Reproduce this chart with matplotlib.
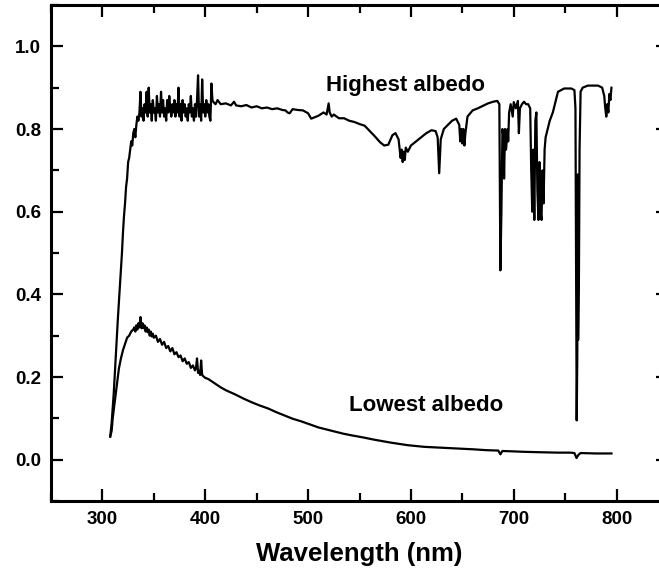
import matplotlib
matplotlib.use("Agg")
import matplotlib.pyplot as plt
from matplotlib.ticker import MultipleLocator

# ---- data: (wavelength nm, albedo) ----
highest = [
    (307.6, 0.056), (309, 0.09), (311, 0.16), (313, 0.25), (315, 0.34), (316.5, 0.40), (318, 0.46),
    (319, 0.50), (320, 0.55), (321, 0.59), (322, 0.62), (323, 0.66), (324, 0.68), (325, 0.72),
    (326, 0.73), (327, 0.75), (328, 0.77), (329, 0.76), (330, 0.79), (331, 0.80), (332, 0.78),
    (333, 0.81), (334, 0.83), (335, 0.82), (336, 0.84), (337, 0.89), (338, 0.83), (339, 0.85),
    (340, 0.82), (341, 0.86), (342, 0.84), (343, 0.89), (344, 0.83), (345, 0.90), (346, 0.84),
    (347, 0.86), (348, 0.82), (349, 0.87), (350, 0.84), (351, 0.85), (352, 0.82), (353, 0.88),
    (354, 0.84), (355, 0.86), (356, 0.83), (357, 0.89), (358, 0.84), (359, 0.87), (360, 0.83),
    (361, 0.85), (362, 0.82), (363, 0.87), (364, 0.84), (365, 0.88), (366, 0.85), (367, 0.83),
    (368, 0.86), (369, 0.84), (370, 0.87), (371, 0.83), (372, 0.86), (373, 0.84), (374, 0.90),
    (375, 0.83), (376, 0.86), (377, 0.82), (378, 0.87), (379, 0.84), (380, 0.86), (381, 0.83),
    (382, 0.85), (383, 0.82), (384, 0.86), (385, 0.84), (386, 0.88), (387, 0.83), (388, 0.85),
    (389, 0.82), (390, 0.86), (391, 0.83), (392, 0.87), (393, 0.93), (394, 0.83), (395, 0.86),
    (396, 0.82), (397, 0.92), (398, 0.84), (399, 0.86), (400, 0.83), (401, 0.87), (402, 0.84),
    (403, 0.86), (404, 0.83), (405, 0.82), (406, 0.91), (407, 0.87), (408, 0.865), (410, 0.86),
    (412, 0.87), (415, 0.86), (420, 0.862), (425, 0.857), (428, 0.866), (430, 0.857), (435, 0.855),
    (440, 0.858), (445, 0.852), (450, 0.855), (455, 0.85), (460, 0.852), (465, 0.848), (470, 0.85),
    (475, 0.846), (478, 0.845), (480, 0.84), (482, 0.838), (485, 0.848), (490, 0.846), (495, 0.845),
    (500, 0.838), (503, 0.825), (506, 0.828), (510, 0.832), (515, 0.84), (518, 0.835), (520, 0.862),
    (521, 0.84), (523, 0.83), (525, 0.835), (530, 0.826), (535, 0.826), (540, 0.82), (545, 0.817),
    (550, 0.812), (555, 0.808), (560, 0.795), (565, 0.782), (570, 0.768), (574, 0.76), (578, 0.762),
    (582, 0.785), (585, 0.79), (588, 0.775), (590, 0.73), (591, 0.75), (592, 0.72), (593, 0.745),
    (594, 0.725), (595, 0.755), (597, 0.745), (600, 0.76), (605, 0.77), (610, 0.78), (615, 0.79),
    (620, 0.797), (624, 0.795), (626, 0.78), (627.5, 0.693), (629, 0.775), (632, 0.80), (636, 0.81),
    (640, 0.82), (644, 0.825), (647, 0.81), (648, 0.77), (649, 0.80), (650, 0.765), (651, 0.80),
    (652, 0.76), (653, 0.79), (655, 0.83), (660, 0.845), (665, 0.85), (670, 0.856), (675, 0.862),
    (680, 0.866), (684, 0.868), (686, 0.86), (687, 0.458), (688, 0.60), (689, 0.80), (690, 0.78),
    (690.6, 0.68), (691.5, 0.80), (692.5, 0.75), (694, 0.80), (694.6, 0.77), (695.5, 0.84),
    (697, 0.86), (699, 0.83), (700, 0.865), (702, 0.85), (704, 0.868), (705, 0.79), (706, 0.85),
    (708, 0.86), (710, 0.866), (712, 0.86), (714, 0.86), (716, 0.85), (717, 0.70), (718, 0.60),
    (719, 0.75), (720, 0.58), (721, 0.82), (722, 0.84), (723, 0.65), (724, 0.58), (725, 0.72),
    (726, 0.60), (727, 0.58), (728, 0.70), (729, 0.62), (730, 0.75), (731, 0.78), (733, 0.80),
    (735, 0.82), (738, 0.84), (740, 0.86), (743, 0.89), (749, 0.898), (756, 0.898), (759, 0.894),
    (760, 0.85), (761.2, 0.095), (761.8, 0.25), (762.2, 0.69), (762.6, 0.29), (763.4, 0.45),
    (764, 0.75), (765, 0.89), (767, 0.90), (772, 0.905), (782, 0.905), (786, 0.90), (788, 0.88),
    (789, 0.85), (790, 0.83), (791, 0.86), (792, 0.84), (793, 0.885), (794, 0.87), (795, 0.90),
]

lowest = [
    (307.6, 0.056), (309, 0.07), (310, 0.10), (312, 0.14), (314, 0.18), (316, 0.22), (318, 0.245),
    (320, 0.265), (322, 0.28), (324, 0.295), (326, 0.30), (328, 0.31), (330, 0.315), (331, 0.32),
    (332, 0.31), (333, 0.325), (334, 0.315), (335, 0.33), (336, 0.32), (337, 0.345), (338, 0.318),
    (339, 0.33), (340, 0.318), (341, 0.325), (342, 0.31), (343, 0.32), (344, 0.308), (345, 0.315),
    (346, 0.30), (347, 0.31), (348, 0.298), (349, 0.305), (350, 0.295), (352, 0.30), (354, 0.285),
    (356, 0.292), (358, 0.278), (360, 0.285), (362, 0.27), (364, 0.275), (366, 0.262), (368, 0.27),
    (370, 0.255), (372, 0.26), (374, 0.248), (376, 0.252), (378, 0.238), (380, 0.245), (382, 0.232),
    (384, 0.236), (386, 0.222), (388, 0.228), (390, 0.216), (391, 0.222), (392, 0.245), (393, 0.21),
    (394, 0.215), (395, 0.205), (396, 0.24), (397, 0.205), (398, 0.202), (400, 0.198), (403, 0.195),
    (406, 0.19), (409, 0.185), (415, 0.175), (420, 0.168), (429, 0.158), (437, 0.148), (445, 0.139),
    (453, 0.131), (461, 0.124), (469, 0.115), (477, 0.107), (485, 0.099), (493, 0.093), (501, 0.086),
    (510, 0.078), (518, 0.073), (526, 0.068), (534, 0.063), (542, 0.059), (553, 0.054), (565, 0.048),
    (581, 0.041), (597, 0.035), (613, 0.031), (629, 0.029), (645, 0.027), (661, 0.025), (673, 0.023),
    (685, 0.022), (687, 0.013), (689, 0.021), (700, 0.02), (710, 0.019), (725, 0.018), (743, 0.017),
    (755, 0.017), (759, 0.016), (761, 0.004), (763, 0.012), (765, 0.016), (780, 0.015), (795, 0.015),
]

x_ticks = [300, 400, 500, 600, 700, 800]
y_ticks = [0.0, 0.2, 0.4, 0.6, 0.8, 1.0]
labels = ["Highest albedo", "Lowest albedo"]
label_pos = [(595, 0.906), (615, 0.131)]

plt.rcParams['font.family'] = ['Liberation Sans', 'DejaVu Sans']
plt.rcParams['font.weight'] = 'bold'

fig = plt.figure(figsize=(6.59, 5.75), dpi=100)
ax = fig.add_axes([51 / 659, 1 - 501 / 575, (668 - 51) / 659, (501 - 5) / 575])

for series in (highest, lowest):
    wl = [p[0] for p in series]
    alb = [p[1] for p in series]
    ax.plot(wl, alb, color='black', lw=1.6)

ax.set_xlim(250, 850)
ax.set_ylim(-0.1, 1.1)
ax.set_xticks(x_ticks)
ax.set_yticks(y_ticks)
ax.set_yticklabels([f"{v:.1f}" for v in y_ticks])
ax.xaxis.set_minor_locator(MultipleLocator(50))
ax.yaxis.set_minor_locator(MultipleLocator(0.1))
ax.tick_params(which='both', direction='in', top=True, right=True, width=1.6,
               labelsize=13.5, pad=7)
ax.tick_params(which='major', length=8.5)
ax.tick_params(which='minor', length=5.5)
for lab in ax.get_xticklabels() + ax.get_yticklabels():
    lab.set_fontweight('bold')
for s in ax.spines.values():
    s.set_linewidth(2.2)

ax.set_xlabel("Wavelength (nm)", fontsize=18.5, fontweight='bold', labelpad=10)

for text, (tx, ty) in zip(labels, label_pos):
    ax.text(tx, ty, text, fontsize=16, fontweight='bold', ha='center', va='center')

fig.savefig("out.png", dpi=100)
